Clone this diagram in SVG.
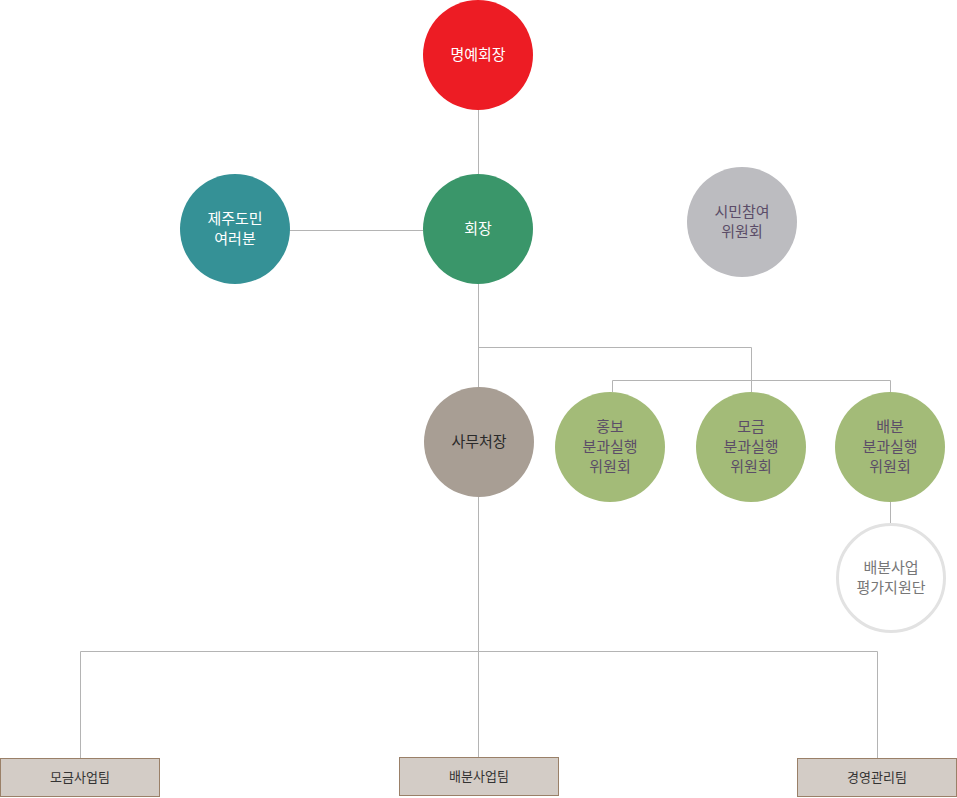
<svg xmlns="http://www.w3.org/2000/svg" width="957" height="798" viewBox="0 0 957 798">
<style>
.ln{stroke:#b4b4b4;stroke-width:1;fill:none}
text{font-family:"Noto Sans CJK KR","Noto Sans",sans-serif;font-size:15px;text-anchor:middle}
.w{fill:#ffffff}
.p{fill:#5b4d68}
.d{fill:#2a2a2a}
.g{fill:#777777}
.bx{fill:#d3ccc6;stroke:#9a8068;stroke-width:1}
.bt{font-size:13px;fill:#333333}
</style>
<rect width="957" height="798" fill="#ffffff"/>
<g id="connectors">
<path class="ln" d="M478.5 110V174M289 230.5H423M478.5 284V387M478.5 347.5H751.5V392M612.5 380.5H890.5M612.5 380.5V392M890.5 380.5V392M890.5 502V524M478.5 497V757M80.5 651.5H877.5M80.5 651.5V758M877.5 651.5V758"/>
</g>
<g id="n_honorary"><circle cx="478" cy="55" r="55" fill="#ed1c24"/><text class="w" x="478" y="60">명예회장</text></g>
<g id="n_chair"><circle cx="478" cy="229" r="55" fill="#3a966a"/><text class="w" x="478" y="234">회장</text></g>
<g id="n_jeju"><circle cx="235" cy="229" r="55" fill="#359196"/><text class="w" x="235" y="224">제주도민</text><text class="w" x="235" y="244">여러분</text></g>
<g id="n_citizen"><circle cx="742" cy="222" r="55" fill="#bcbcc0"/><text class="p" x="742" y="217">시민참여</text><text class="p" x="742" y="237">위원회</text></g>
<g id="n_secretary"><circle cx="479" cy="442" r="55" fill="#a89e94"/><text class="d" x="479" y="447">사무처장</text></g>
<g id="n_promo"><circle cx="610" cy="447" r="55" fill="#a3bb78"/><text class="p" x="610" y="432">홍보</text><text class="p" x="610" y="452">분과실행</text><text class="p" x="610" y="472">위원회</text></g>
<g id="n_fund"><circle cx="751" cy="447" r="55" fill="#a3bb78"/><text class="p" x="751" y="432">모금</text><text class="p" x="751" y="452">분과실행</text><text class="p" x="751" y="472">위원회</text></g>
<g id="n_dist"><circle cx="890" cy="447" r="55" fill="#a3bb78"/><text class="p" x="890" y="432">배분</text><text class="p" x="890" y="452">분과실행</text><text class="p" x="890" y="472">위원회</text></g>
<g id="n_eval"><circle cx="891" cy="578" r="53.5" fill="#ffffff" stroke="#e2e2e2" stroke-width="3"/><text class="g" x="891" y="573">배분사업</text><text class="g" x="891" y="593">평가지원단</text></g>
<g id="t_fund"><rect class="bx" x="0.5" y="758.5" width="159" height="38"/><text class="bt" x="80" y="782">모금사업팀</text></g>
<g id="t_dist"><rect class="bx" x="399.5" y="757.5" width="159" height="38"/><text class="bt" x="479" y="781">배분사업팀</text></g>
<g id="t_mgmt"><rect class="bx" x="797.5" y="758.5" width="159" height="38"/><text class="bt" x="877" y="782">경영관리팀</text></g>
</svg>
